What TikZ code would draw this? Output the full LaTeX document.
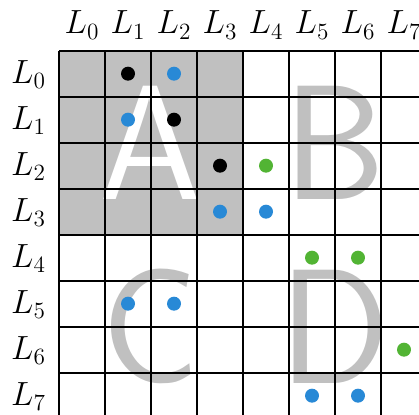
\documentclass[tikz,border=0pt]{standalone}
\usepackage{tikz}
\definecolor{blkgray}{RGB}{192,192,192}
\definecolor{dotblue}{RGB}{40,137,214}
\definecolor{dotgreen}{RGB}{82,180,52}
\begin{document}
\begin{tikzpicture}[x=1cm,y=1cm,
  gridline/.style={line width=1.1pt,black},
  bigletter/.style={inner sep=0pt,font=\fontsize{101}{101}\selectfont\sffamily},
  lab/.style={inner sep=0pt,anchor=base,font=\fontsize{20.5}{24}\selectfont},
  dotb/.style={fill=dotblue},
  dotk/.style={fill=black},
  dotg/.style={fill=dotgreen}]
\useasboundingbox (-1.283,1.102) rectangle (7.826,-7.92);
\clip (-1.283,1.102) rectangle (7.826,-7.92);
\fill[blkgray] (0,0) rectangle (4,-4);
\node[bigletter,text=white] (A) at (2,-2) {A};
\node[bigletter,text=blkgray] (B) at (6,-2) {B};
\node[bigletter,text=blkgray] (C) at (2,-6) {C};
\node[bigletter,text=blkgray] (D) at (6,-6) {D};
\foreach \i in {0,...,8} {
  \draw[gridline] (\i,0) -- (\i,-8);
  \draw[gridline] (0,-\i) -- (8,-\i);
}
\foreach \i in {0,...,7} {
  \node[lab] (c\i) at (\i+0.5,0.363) {$L_{\i}$};
  \node[lab] (r\i) at (-0.663,-\i-0.71) {$L_{\i}$};
}
\def\R{0.152}
% black dots (col,row)
\foreach \c/\r in {1/0,2/1,3/2} \fill[dotk] (\c+0.5,-\r-0.5) circle (\R);
\foreach \c/\r in {2/0,1/1,3/3,4/3,1/5,2/5,5/7,6/7} \fill[dotb] (\c+0.5,-\r-0.5) circle (\R);
\foreach \c/\r in {4/2,5/4,6/4,7/6} \fill[dotg] (\c+0.5,-\r-0.5) circle (\R);
\end{tikzpicture}
\end{document}
